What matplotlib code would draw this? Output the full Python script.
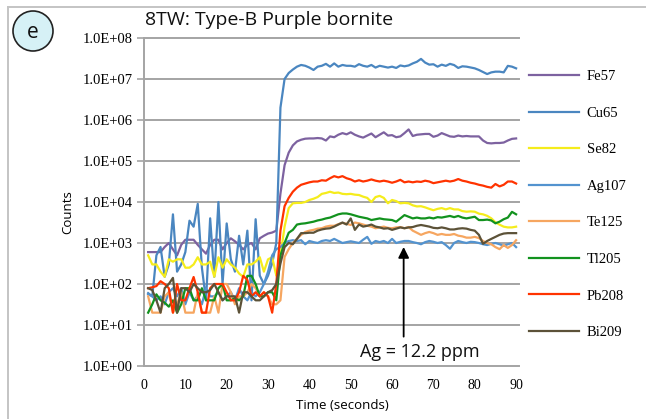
import numpy as np
import matplotlib
matplotlib.use("Agg")
import matplotlib.pyplot as plt
from matplotlib.patches import Ellipse
from matplotlib.lines import Line2D

# Acquisition time (s), one reading per second
time_s = np.arange(1, 91)

fe57 = [600, 600, 600, 600, 800, 1000, 700, 500, 900, 1200, 1200, 1200, 900, 700, 550, 900,
        1200, 1200, 700, 1000, 1300, 1100, 900, 700, 900, 1000, 700, 1300, 1500, 1700, 1800, 2000,
        16000, 79000, 160000, 240000, 300000, 330000, 350000, 355000, 355000, 363000, 355000,
        316000, 398000, 380000, 437000, 479000, 447000, 501000, 437000, 398000, 372000, 417000,
        468000, 380000, 437000, 501000, 417000, 427000, 380000, 398000, 479000, 589000, 407000,
        437000, 447000, 457000, 457000, 389000, 417000, 479000, 437000, 398000, 389000, 417000,
        398000, 407000, 398000, 398000, 398000, 316000, 275000, 269000, 275000, 275000, 282000,
        316000, 347000, 355000]

cu65 = [60, 50, 500, 800, 150, 300, 5000, 200, 300, 600, 3500, 2500, 9000, 250, 40, 4000,
        150, 10000, 100, 3000, 400, 200, 1500, 300, 2000, 40, 3800, 160, 100, 160, 320, 1000,
        2.0e6, 1.0e7, 1.4e7, 1.7e7, 2.0e7, 2.2e7, 2.1e7, 1.9e7, 1.66e7, 2.0e7, 2.1e7, 2.34e7,
        2.0e7, 2.4e7, 2.0e7, 2.2e7, 2.1e7, 2.1e7, 2.0e7, 2.3e7, 2.1e7, 2.0e7, 2.2e7, 1.9e7,
        2.1e7, 2.0e7, 1.9e7, 2.0e7, 1.86e7, 2.14e7, 2.04e7, 2.14e7, 2.4e7, 2.63e7, 3.09e7,
        2.51e7, 2.24e7, 2.29e7, 2.0e7, 2.24e7, 2.09e7, 2.34e7, 2.19e7, 1.86e7, 2.04e7, 2.0e7,
        1.91e7, 1.82e7, 1.66e7, 1.48e7, 1.32e7, 1.45e7, 1.51e7, 1.51e7, 1.45e7, 2.09e7, 2.0e7,
        1.82e7]

se82 = [500, 300, 300, 200, 150, 400, 350, 400, 400, 250, 250, 300, 450, 300, 300, 350,
        150, 450, 250, 400, 300, 250, 180, 150, 300, 300, 350, 450, 200, 400, 450, 160,
        500, 2500, 7100, 9300, 9500, 9500, 10000, 11200, 12000, 13200, 15800, 16600, 17800,
        16600, 17000, 15800, 15500, 15800, 15100, 14800, 13500, 12600, 10000, 13200, 14100,
        12600, 9300, 11200, 10500, 9300, 9500, 9300, 8300, 7800, 7900, 7400, 6800, 6300, 6800,
        7100, 6600, 7100, 6600, 6600, 6000, 5800, 5900, 5800, 5200, 5000, 4600, 4000, 3200,
        2800, 2500, 2400, 2400, 2500]

ag107 = [56, 50, 40, 50, 32, 63, 79, 50, 79, 32, 63, 40, 50, 32, 79, 50, 50, 63, 40, 50,
         63, 40, 79, 50, 40, 63, 50, 63, 100, 200, 500, 708,
         794, 1000, 1120, 1170, 1120, 1170, 933, 1120, 1050, 1000, 1120, 1170, 1120, 1260,
         1120, 1000, 1050, 1100, 1050, 1000, 1200, 1410, 955, 1120, 1050, 1120, 1000, 1260,
         1000, 1070, 1120, 1120, 1050, 1000, 933, 1050, 1120, 1070, 1000, 1050, 891, 724,
         1000, 1120, 1050, 1000, 1070, 1050, 1000, 933, 891, 955, 1000, 933, 851, 933, 1000,
         794]

te125 = [50, 20, 20, 20, 50, 63, 20, 32, 63, 20, 20, 20, 63, 20, 20, 20, 50, 20, 100, 100,
         63, 32, 50, 50, 63, 100, 79, 50, 63, 50, 32, 32,
         40, 457, 708, 1000, 1260, 1580, 1860, 2000, 2090, 2240, 2290, 2510, 2630, 2630, 2880,
         3090, 2950, 2750, 3160, 3020, 2820, 2630, 2510, 2290, 2400, 2510, 2340, 2290, 2400,
         2450, 2290, 2450, 2000, 1780, 1580, 1740, 1860, 1740, 1580, 1660, 1580, 1580, 1660,
         1510, 1450, 1350, 1350, 1410, 1320, 1120, 1000, 933, 794, 708, 891, 759, 891, 1170]

tl205 = [20, 32, 56, 40, 35, 28, 40, 20, 32, 79, 79, 40, 40, 79, 40, 40, 40, 79, 100, 40,
         40, 45, 40, 50, 158, 158, 100, 50, 50, 63, 63, 40,
         500, 1000, 1780, 2090, 2820, 2950, 3020, 3160, 3310, 3550, 3720, 3980, 4170, 4570,
         5010, 5250, 5250, 5010, 4680, 4370, 4170, 3980, 3630, 3800, 3980, 3800, 3720, 3630,
         3310, 3980, 4790, 4370, 3980, 4170, 3980, 3980, 4170, 3980, 4270, 4170, 4370, 4570,
         4270, 4570, 4170, 3980, 4170, 4370, 3630, 3630, 3720, 3550, 3020, 3310, 3800, 4170,
         5750, 5010]

pb208 = [79, 83, 89, 117, 100, 79, 20, 100, 40, 40, 79, 148, 63, 20, 20, 79, 100, 100, 100,
         63, 40, 40, 63, 158, 126, 50, 63, 50, 63, 50, 20, 100,
         2000, 7900, 12600, 17800, 22400, 26300, 28200, 30200, 31600, 31600, 33900, 33100,
         38000, 42700, 39800, 42700, 38000, 35500, 31600, 33900, 31600, 33100, 35500, 33100,
         31600, 33100, 31600, 29500, 31600, 34700, 30200, 31600, 30200, 31600, 30900, 33100,
         31600, 28800, 30200, 31600, 33100, 31600, 33100, 36300, 33100, 31600, 29500, 28200,
         26300, 25100, 23400, 22400, 27500, 24000, 26300, 31600, 31600, 28200]

bi209 = [79, 71, 40, 20, 79, 100, 141, 20, 79, 79, 63, 100, 79, 63, 63, 71, 100, 63, 40, 50,
         50, 50, 20, 63, 63, 50, 40, 40, 50, 63, 71, 100,
         316, 794, 1000, 933, 1260, 1740, 1740, 1780, 1780, 2000, 2140, 2240, 2290, 2510, 2820,
         3160, 2820, 3980, 2090, 2820, 2510, 2630, 2820, 2510, 2400, 2240, 2290, 2090, 2240,
         2400, 2290, 2400, 2450, 2630, 2750, 2630, 2510, 2340, 2290, 2400, 2290, 2140, 2140,
         2240, 2290, 2240, 2090, 2000, 1580, 955, 1120, 1260, 1410, 1580, 1700, 1740, 1740, 1740]

series_names = ["Fe57", "Cu65", "Se82", "Ag107", "Te125", "Tl205", "Pb208", "Bi209"]
series_values = [fe57, cu65, se82, ag107, te125, tl205, pb208, bi209]
series_colors = ["#7D62A0", "#4A86C0", "#F5EC1C", "#5393CF", "#F6A660",
                 "#12921E", "#FF3300", "#5C5238"]

y_ticks = [10.0 ** k for k in range(0, 9)]
y_tick_labels = ["1.0E+%02d" % k for k in range(0, 9)]
x_ticks = list(range(0, 100, 10))

title_text = "8TW: Type-B Purple bornite"
panel_letter = "e"
annotation_text = "Ag = 12.2 ppm"
arrow_time = 62.8
arrow_tip = 800
arrow_tail = 5.2

W, H = 646, 419
fig = plt.figure(figsize=(W / 100, H / 100), dpi=100)
fig.patch.set_facecolor("white")

serif = ["Liberation Serif", "DejaVu Serif"]
sans = ["Open Sans", "DejaVu Sans"]

ax = fig.add_axes([144 / W, 53 / H, 375 / W, 328 / H])
ax.set_yscale("log")
ax.set_ylim(1, 1e8)
ax.set_xlim(0, 90.7)

grid_color = "#a4a4a4"
for v in y_ticks[1:]:
    ax.axhline(v, color=grid_color, lw=1.4, zorder=1, clip_on=False)

for name, vals, col in zip(series_names, series_values, series_colors):
    ax.plot(time_s, vals, color=col, lw=1.6, label=name, zorder=3,
            solid_joinstyle="round")

for s in ["top", "right"]:
    ax.spines[s].set_visible(False)
for s in ["left", "bottom"]:
    ax.spines[s].set_color(grid_color)
    ax.spines[s].set_linewidth(1.4)

ax.set_yticks(y_ticks)
ax.set_yticklabels(y_tick_labels, fontfamily=serif, fontsize=10.5)
ax.yaxis.set_minor_locator(matplotlib.ticker.NullLocator())
ax.tick_params(axis="y", length=5, width=1.2, color=grid_color, pad=3)
ax.set_xticks(x_ticks)
ax.set_xticklabels([str(x) for x in x_ticks], fontfamily=serif, fontsize=10)
ax.tick_params(axis="x", length=0, pad=9)

ax.set_xlabel("Time (seconds)", fontfamily=sans, fontsize=9.5, labelpad=3)
ax.xaxis.set_label_coords(0.53, -0.1)
ax.set_ylabel("Counts", fontfamily=sans, fontsize=9.5)
ax.yaxis.set_label_coords(-0.185, 0.47)

# Arrow pointing at the Ag107 plateau
ax.annotate("", xy=(arrow_time, arrow_tip), xytext=(arrow_time, arrow_tail),
            arrowprops=dict(arrowstyle="-|>", color="black", lw=1.3,
                            mutation_scale=16, shrinkA=0, shrinkB=0), zorder=5)
ax.text(66.8, 2.2, annotation_text, ha="center", va="center",
        fontfamily=sans, fontsize=13, color="#111111")

fig.text(145 / W, 1 - 20 / H, title_text, ha="left", va="center",
         fontfamily=sans, fontsize=14, color="#111111")

# Panel badge
badge = Ellipse((33 / W, 1 - 31 / H), width=40 / W, height=40 / H,
                transform=fig.transFigure, facecolor="#d6f1f6",
                edgecolor="#222222", lw=1.2)
fig.patches.append(badge)
fig.text(33 / W, 1 - 32 / H, panel_letter, ha="center", va="center",
         fontfamily=sans, fontsize=15, color="#111111")

# Outer frame lines
fig.add_artist(Line2D([8 / W, 1], [1 - 7 / H, 1 - 7 / H], color="#c4c4c4", lw=1.4))
fig.add_artist(Line2D([8 / W, 8 / W], [0, 1 - 7 / H], color="#c4c4c4", lw=1.4))

handles, labels = ax.get_legend_handles_labels()
leg = fig.legend(handles, labels, loc="upper left", bbox_to_anchor=(516 / W, 1 - 57 / H),
                 frameon=False, prop={"family": serif, "size": 10.5},
                 handlelength=3.4, handletextpad=0.55, labelspacing=1.6)

fig.savefig("out.png", dpi=100, facecolor="white")
